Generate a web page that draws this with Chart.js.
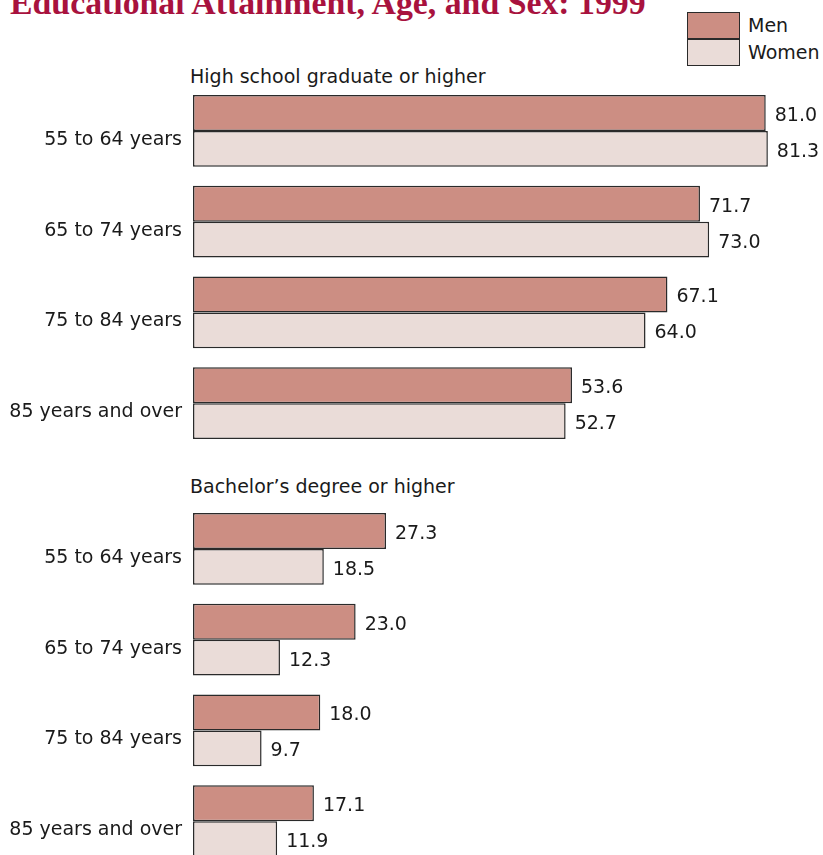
<!DOCTYPE html>
<html>
<head>
<meta charset="utf-8">
<script src="https://cdn.jsdelivr.net/npm/chart.js@4.4.0/dist/chart.umd.min.js"></script>
<style>
  html, body { margin: 0; padding: 0; background: #fff; }
  body { width: 823px; height: 855px; overflow: hidden; position: relative; font-family: "DejaVu Sans", sans-serif; color: #1a1a1a; }
  .txt { position: absolute; line-height: 0; white-space: nowrap; font-size: 19px; }
  #title { position: absolute; left: 10px; top: -14px; font: bold 33.8px "Liberation Serif", serif; line-height: 33px; color: #a8123e; white-space: nowrap; }
  .lbox { position: absolute; left: 687px; width: 51px; height: 25px; border: 1.5px solid #2a2a2a; }
  canvas { position: absolute; left: 0; }
</style>
</head>
<body>
<div id="title">Educational Attainment, Age, and Sex: 1999</div>
<div id="legend"></div>
<div class="txt" style="left:190px; top:76px;">High school graduate or higher</div>
<div class="txt" style="left:190px; top:486px;">Bachelor’s degree or higher</div>
<canvas id="hsChart" width="823" height="419" style="top:60px;"></canvas>
<canvas id="baChart" width="823" height="427" style="top:470px;"></canvas>
<script>
// Data
const ageGroups = ["55 to 64 years", "65 to 74 years", "75 to 84 years", "85 years and over"];
const seriesNames = ["Men", "Women"];
const seriesColors = ["#cc8e83", "#eadcd8"];
const hsMen = [81.0, 71.7, 67.1, 53.6];
const hsWomen = [81.3, 73.0, 64.0, 52.7];
const baMen = [27.3, 23.0, 18.0, 17.1];
const baWomen = [18.5, 12.3, 9.7, 11.9];

// Legend (stacked boxes)
const legend = document.getElementById("legend");
seriesNames.forEach((name, i) => {
    const top = 12 + i * 26.5;
    legend.innerHTML += `<div class="lbox" style="top:${top}px; background:${seriesColors[i]}"></div>` +
        `<div class="txt" style="left:748px; top:${top + 13}px;">${name}</div>`;
});

// Draw value next to each bar
const valueLabels = {
    id: "valueLabels",
    afterDatasetsDraw(chart) {
        const ctx = chart.ctx;
        ctx.save();
        ctx.font = "19px 'DejaVu Sans'";
        ctx.fillStyle = "#1a1a1a";
        ctx.textBaseline = "middle";
        chart.data.datasets.forEach((ds, i) => {
            chart.getDatasetMeta(i).data.forEach((bar, j) => {
                ctx.fillText(ds.data[j].toFixed(1), bar.x + 9, bar.y + 3);
            });
        });
        ctx.restore();
    }
};

function makeChart(id, men, women, padTop, padBottom) {
    return new Chart(document.getElementById(id), {
        type: "bar",
        data: {
            labels: ageGroups,
            datasets: [
                { label: seriesNames[0], data: men, backgroundColor: seriesColors[0] },
                { label: seriesNames[1], data: women, backgroundColor: seriesColors[1] }
            ]
        },
        options: {
            indexAxis: "y",
            responsive: false,
            animation: false,
            layout: { autoPadding: false, padding: { top: padTop, bottom: padBottom, left: 0, right: 0 } },
            datasets: {
                bar: {
                    borderColor: "#2a2a2a",
                    borderWidth: 1.5,
                    borderSkipped: false,
                    barPercentage: 1,
                    categoryPercentage: 0.791
                }
            },
            plugins: {
                legend: { display: false },
                tooltip: { enabled: false }
            },
            scales: {
                x: { display: false, min: 0, max: 89.1 },
                y: {
                    grid: { display: false, drawTicks: false },
                    border: { display: false },
                    ticks: {
                        color: "#1a1a1a",
                        font: { family: "DejaVu Sans", size: 19 },
                        padding: 11,
                        labelOffset: 9
                    },
                    afterFit: (scale) => { scale.width = 193; }
                }
            }
        },
        plugins: [valueLabels]
    });
}

makeChart("hsChart", hsMen, hsWomen, 25.5, 30.5);
makeChart("baChart", baMen, baWomen, 33.5, 30.5);
</script>
</body>
</html>
